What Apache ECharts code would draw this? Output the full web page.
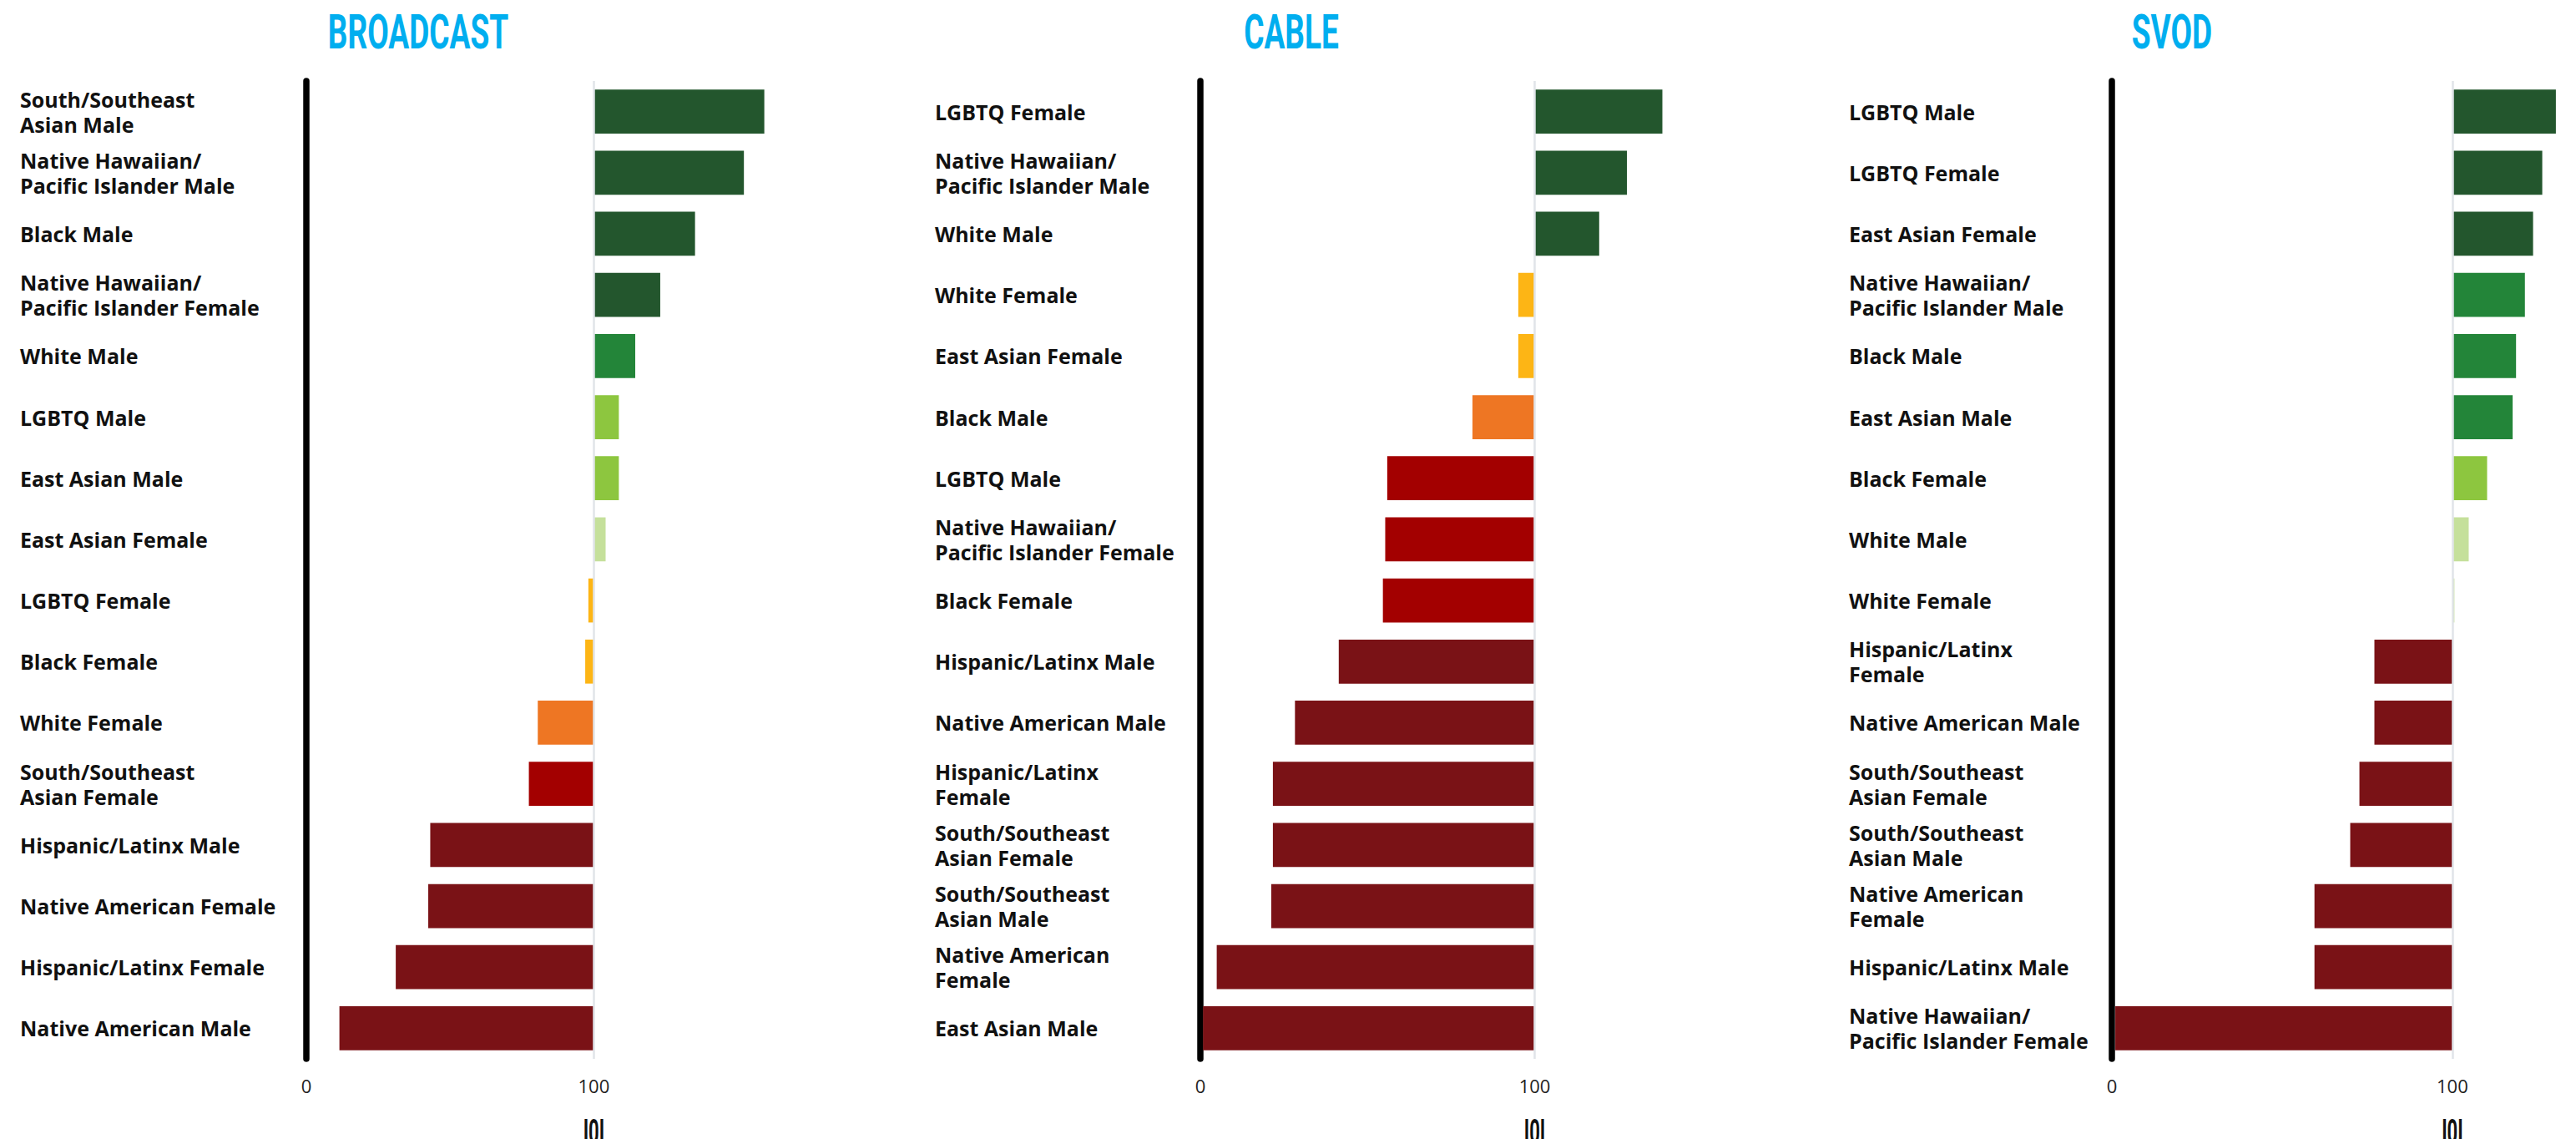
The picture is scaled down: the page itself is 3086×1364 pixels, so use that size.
<!DOCTYPE html>
<html>
<head>
<meta charset="utf-8">
<title>Representation index: Broadcast, Cable, SVOD</title>
<script src="https://cdn.jsdelivr.net/npm/echarts@6/dist/echarts.min.js"></script>
<style>
  html, body { margin: 0; padding: 0; background: #fff; }
  #chart { width: 3086px; height: 1364px; }
</style>
</head>
<body>
<div id="chart"></div>
<script>
// reference line and tick labels shown on every panel
const baseline = 100;
const xTicks = [0, 100];

const broadcastCats = [
  "South/Southeast\nAsian Male", "Native Hawaiian/\nPacific Islander Male", "Black Male",
  "Native Hawaiian/\nPacific Islander Female", "White Male", "LGBTQ Male", "East Asian Male",
  "East Asian Female", "LGBTQ Female", "Black Female", "White Female",
  "South/Southeast\nAsian Female", "Hispanic/Latinx Male", "Native American Female",
  "Hispanic/Latinx Female", "Native American Male"
];
const broadcastVals = [159.3, 152.2, 135.2, 123.1, 114.4, 108.7, 108.7, 104.1, 98.1, 97.0, 80.5, 77.4, 43.1, 42.4, 31.1, 11.5];
const broadcastTiers = [0, 0, 0, 0, 1, 2, 2, 3, 4, 4, 5, 6, 7, 7, 7, 7];

const cableCats = [
  "LGBTQ Female", "Native Hawaiian/\nPacific Islander Male", "White Male", "White Female",
  "East Asian Female", "Black Male", "LGBTQ Male", "Native Hawaiian/\nPacific Islander Female",
  "Black Female", "Hispanic/Latinx Male", "Native American Male", "Hispanic/Latinx\nFemale",
  "South/Southeast\nAsian Female", "South/Southeast\nAsian Male", "Native American\nFemale",
  "East Asian Male"
];
const cableVals = [138.2, 127.6, 119.3, 95.1, 95.1, 81.4, 55.9, 55.3, 54.6, 41.4, 28.3, 21.7, 21.7, 21.2, 4.9, 0.8];
const cableTiers = [0, 0, 0, 4, 4, 5, 6, 6, 6, 7, 7, 7, 7, 7, 7, 7];

const svodCats = [
  "LGBTQ Male", "LGBTQ Female", "East Asian Female", "Native Hawaiian/\nPacific Islander Male",
  "Black Male", "East Asian Male", "Black Female", "White Male", "White Female",
  "Hispanic/Latinx\nFemale", "Native American Male", "South/Southeast\nAsian Female",
  "South/Southeast\nAsian Male", "Native American\nFemale", "Hispanic/Latinx Male",
  "Native Hawaiian/\nPacific Islander Female"
];
const svodVals = [130.4, 126.4, 123.7, 121.3, 118.7, 117.7, 110.2, 104.8, 100.6, 77.1, 77.1, 72.7, 70.0, 59.5, 59.5, 1.0];
const svodTiers = [0, 0, 0, 1, 1, 1, 2, 3, 3, 7, 7, 7, 7, 7, 7, 7];

// tier 0 = far above 100 ... tier 7 = far below
const tierColors = ["#23562d", "#238539", "#8dc63f", "#c5e09b", "#fdb515", "#ee7623", "#a30000", "#7a1216"];

const panels = [
  { title: "BROADCAST", cats: broadcastCats, vals: broadcastVals, tiers: broadcastTiers },
  { title: "CABLE", cats: cableCats, vals: cableVals, tiers: cableTiers },
  { title: "SVOD", cats: svodCats, vals: svodVals, tiers: svodTiers }
];

// pixel layout of each panel
const layout = [
  { labelX: 24, left: 367, unit: 3.444, max: 165, titleX: 501 },
  { labelX: 1120, left: 1438, unit: 4.005, max: 145, titleX: 1547 },
  { labelX: 2215, left: 2530, unit: 4.079, max: 135, titleX: 2602 }
];
const gridTop = 97;
const gridHeight = 1171;

const grids = [], xAxes = [], yAxes = [], series = [];

panels.forEach((p, i) => {
  const l = layout[i];
  grids.push({ left: l.left, top: gridTop, width: l.max * l.unit, height: gridHeight });

  xAxes.push({
    gridIndex: i,
    type: "value",
    min: 0,
    max: l.max,
    axisLine: { show: false },
    axisTick: { show: false },
    splitLine: { show: false },
    axisLabel: {
      customValues: xTicks,
      margin: 21,
      fontFamily: "'Open Sans', sans-serif",
      fontSize: 22,
      color: "#222"
    }
  });

  yAxes.push({
    gridIndex: i,
    type: "category",
    inverse: true,
    data: p.cats,
    axisLine: { show: true, lineStyle: { color: "#000", width: 7.5 } },
    axisTick: { show: false },
    axisLabel: {
      interval: 0,
      align: "left",
      margin: l.left - l.labelX,
      fontFamily: "'Open Sans', sans-serif",
      fontWeight: "bold",
      fontSize: 25,
      lineHeight: 30,
      color: "#111"
    }
  });

  // invisible part from 0 to the start of the bar
  series.push({
    type: "bar",
    xAxisIndex: i,
    yAxisIndex: i,
    stack: "s" + i,
    silent: true,
    itemStyle: { color: "transparent" },
    data: p.vals.map(v => Math.min(v, baseline))
  });

  // visible part between the value and 100
  series.push({
    type: "bar",
    xAxisIndex: i,
    yAxisIndex: i,
    stack: "s" + i,
    barCategoryGap: "28%",
    itemStyle: {
      color: params => tierColors[p.tiers[params.dataIndex]]
    },
    data: p.vals.map(v => Math.abs(v - baseline)),
    markLine: {
      silent: true,
      symbol: ["none", "none"],
      label: { show: false },
      lineStyle: { color: "#e1e4e9", width: 2.5, type: "solid" },
      data: [{ xAxis: baseline }]
    }
  });
});

const chart = echarts.init(document.getElementById("chart"), null, { renderer: "svg" });
chart.setOption({
  animation: false,
  backgroundColor: "#fff",
  grid: grids,
  xAxis: xAxes,
  yAxis: yAxes,
  series: series
});

// panel titles and the clipped marks under each 100 line
const graphics = panels.map((p, i) => ({
  type: "text",
  x: layout[i].titleX,
  y: 38,
  scaleX: 0.65,
  style: {
    text: p.title,
    fill: "#00aeef",
    font: "bold 57px Roboto",
    textAlign: "center",
    textVerticalAlign: "middle"
  }
}));
panels.forEach((p, i) => {
  const pt = chart.convertToPixel({ gridIndex: i }, [baseline, 0]);
  graphics.push({
    type: "text",
    x: pt[0],
    y: 1355,
    scaleX: 0.55,
    style: {
      text: "I0I",
      fill: "#111",
      font: "bold 40px Roboto",
      textAlign: "center",
      textVerticalAlign: "middle"
    }
  });
});
chart.setOption({ graphic: graphics });

window.addEventListener("resize", function () {
  chart.resize();
});
</script>
</body>
</html>
